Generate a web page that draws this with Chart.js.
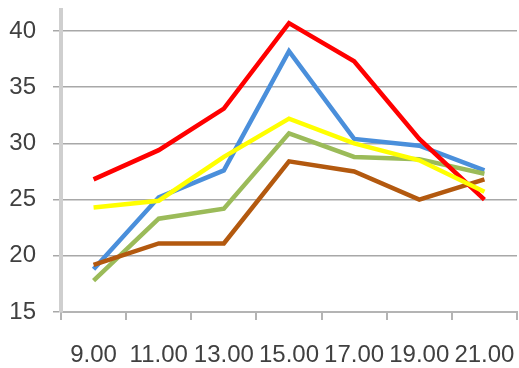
<!DOCTYPE html>
<html>
<head>
<meta charset="utf-8">
<script src="https://cdn.jsdelivr.net/npm/chart.js@4/dist/chart.umd.min.js"></script>
<style>
  html, body { margin: 0; padding: 0; background: #fff; }
  #wrap { width: 519px; height: 368px; position: relative; }
</style>
</head>
<body>
<div id="wrap"><canvas id="c"></canvas></div>
<script>
// Hours of the day along the x axis
const hours = ['9.00', '11.00', '13.00', '15.00', '17.00', '19.00', '21.00'];

// Temperature series, one per line
const redSeries    = [26.8, 29.4, 33.1, 40.7, 37.3, 30.4, 25.0];
const blueSeries   = [18.8, 25.2, 27.6, 38.2, 30.4, 29.8, 27.6];
const yellowSeries = [24.3, 24.9, 28.8, 32.2, 30.0, 28.5, 25.7];
const greenSeries  = [17.8, 23.3, 24.2, 30.9, 28.8, 28.6, 27.3];
const brownSeries  = [19.2, 21.1, 21.1, 28.4, 27.5, 25.0, 26.8];

// Value axis range and step
const yMin = 15;
const yMax = 41.87;
const yStep = 5;

const labelFont = { family: '"Liberation Sans", Arial, sans-serif', size: 24 };
const textColor = '#404040';

function line(data, color) {
  return {
    data,
    borderColor: color,
    backgroundColor: color,
    borderWidth: 4.5,
    pointRadius: 0,
    tension: 0,
    fill: false
  };
}

new Chart(document.getElementById('c'), {
  type: 'line',
  data: {
    labels: hours,
    // first dataset is painted last (on top)
    datasets: [
      line(yellowSeries, '#ffff00'),
      line(redSeries, '#ff0000'),
      line(brownSeries, '#b3590f'),
      line(greenSeries, '#9bbb59'),
      line(blueSeries, '#4a8fdb')
    ]
  },
  options: {
    responsive: true,
    maintainAspectRatio: false,
    animation: false,
    layout: { padding: { top: 10, right: 2, left: 0, bottom: 0 } },
    plugins: { legend: { display: false }, tooltip: { enabled: false } },
    scales: {
      x: {
        offset: true,
        grid: {
          offset: true,
          drawOnChartArea: false,
          drawTicks: true,
          tickLength: 8,
          color: '#b4b4b4',
          lineWidth: 2
        },
        border: { display: true, color: '#b4b4b4', width: 2 },
        ticks: {
          font: labelFont,
          color: textColor,
          padding: 21,
          maxRotation: 0,
          autoSkip: false
        },
        afterFit(scale) {
          scale.height = 56;
          scale.paddingLeft = 0;
          scale.paddingRight = 0;
        }
      },
      y: {
        min: yMin,
        max: yMax,
        grid: {
          color: '#a8a8a8',
          lineWidth: 1.5,
          drawTicks: true,
          tickLength: 8
        },
        border: { display: true, color: '#cfcfcf', width: 4 },
        ticks: {
          stepSize: yStep,
          includeBounds: false,
          font: labelFont,
          color: textColor,
          padding: 17
        },
        afterFit(scale) {
          scale.width = 61;
          scale.paddingTop = 0;
          scale.paddingBottom = 0;
        }
      }
    }
  }
});
</script>
</body>
</html>
